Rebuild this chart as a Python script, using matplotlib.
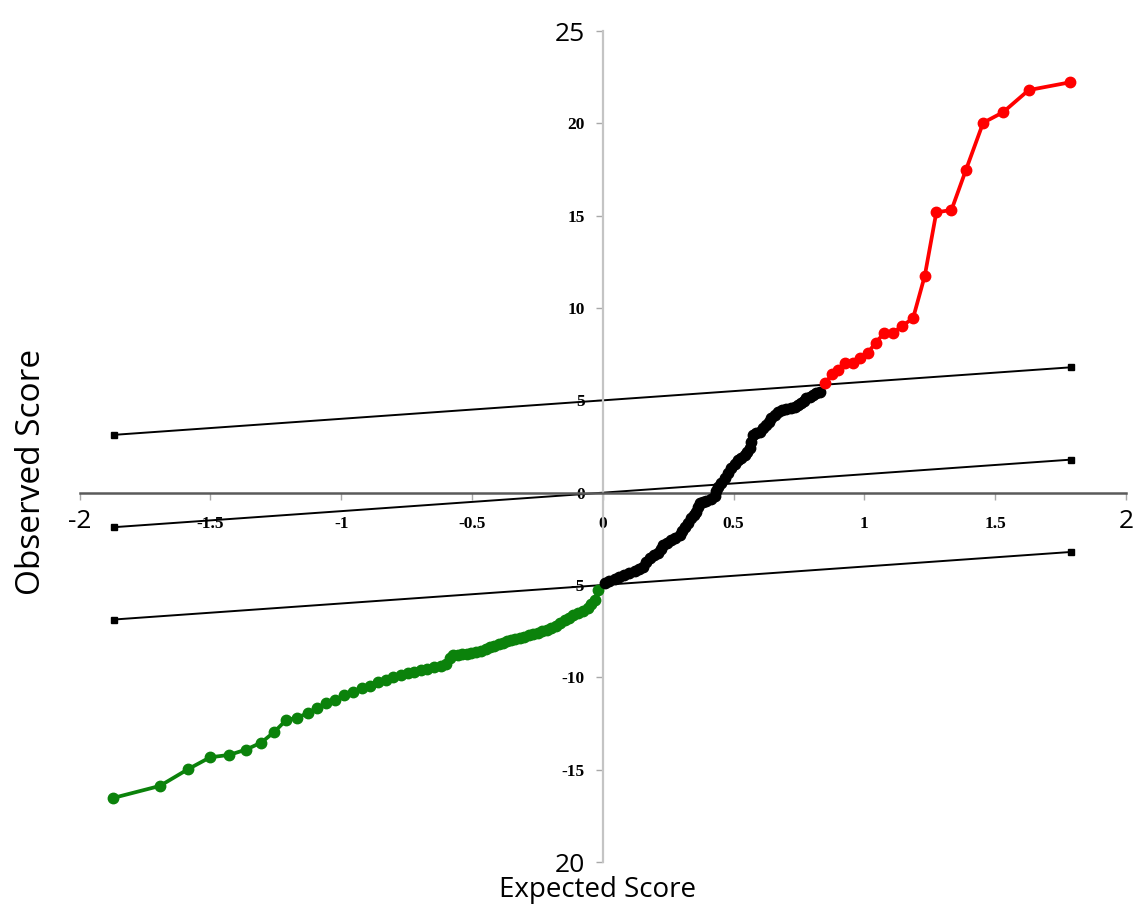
import matplotlib
matplotlib.use("Agg")
import matplotlib.pyplot as plt
from matplotlib.font_manager import FontProperties

# Observed vs expected scores, split into down-regulated (green),
# unchanged (black) and up-regulated (red) groups
green_x = [-1.871, -1.693, -1.586, -1.501, -1.428, -1.363, -1.305, -1.256,
           -1.210, -1.167, -1.127, -1.092, -1.056, -1.022, -0.990, -0.955,
           -0.922, -0.890, -0.860, -0.830, -0.800, -0.772, -0.745, -0.720,
           -0.695, -0.670, -0.645, -0.620, -0.598, -0.585, -0.572, -0.555,
           -0.538, -0.520, -0.502, -0.485, -0.466, -0.448, -0.430, -0.414,
           -0.398, -0.382, -0.366, -0.350, -0.334, -0.318, -0.300, -0.283,
           -0.266, -0.248, -0.232, -0.215, -0.197, -0.180, -0.163, -0.146,
           -0.130, -0.112, -0.095, -0.075, -0.057, -0.044, -0.031, -0.018]
green_y = [-16.53, -15.88, -14.98, -14.33, -14.20, -13.91, -13.53, -12.96,
           -12.31, -12.18, -11.93, -11.64, -11.40, -11.22, -10.98, -10.80,
           -10.60, -10.45, -10.25, -10.12, -10.00, -9.85, -9.78, -9.70,
           -9.62, -9.55, -9.46, -9.38, -9.28, -8.95, -8.80, -8.77,
           -8.74, -8.71, -8.67, -8.62, -8.55, -8.47, -8.38, -8.30,
           -8.20, -8.12, -8.05, -7.98, -7.92, -7.86, -7.80, -7.72,
           -7.65, -7.58, -7.50, -7.42, -7.34, -7.20, -7.05, -6.89,
           -6.76, -6.63, -6.53, -6.40, -6.26, -6.05, -5.81, -5.27]

black_x = [0.007, 0.025, 0.045, 0.064, 0.083, 0.102, 0.122, 0.138, 0.154,
           0.166, 0.179, 0.195, 0.211, 0.222, 0.230, 0.246, 0.262, 0.278,
           0.294, 0.304, 0.313, 0.326, 0.338, 0.348, 0.358, 0.365, 0.370,
           0.383, 0.396, 0.412, 0.428, 0.434, 0.440, 0.453, 0.466, 0.478,
           0.491, 0.504, 0.517, 0.530, 0.542, 0.552, 0.561, 0.568, 0.574,
           0.587, 0.600, 0.612, 0.625, 0.635, 0.644, 0.657, 0.670, 0.686,
           0.702, 0.718, 0.733, 0.746, 0.759, 0.768, 0.778, 0.791, 0.804,
           0.816, 0.829]
black_y = [-4.91, -4.80, -4.69, -4.58, -4.46, -4.36, -4.24, -4.13, -4.01,
           -3.78, -3.55, -3.40, -3.28, -3.05, -2.83, -2.70, -2.56, -2.43,
           -2.29, -2.06, -1.84, -1.62, -1.39, -1.21, -1.03, -0.80, -0.57,
           -0.51, -0.45, -0.32, -0.18, 0.07, 0.32, 0.55, 0.78, 1.05,
           1.32, 1.55, 1.77, 1.90, 2.04, 2.22, 2.40, 2.76, 3.12,
           3.21, 3.30, 3.48, 3.67, 3.85, 4.03, 4.21, 4.39, 4.46,
           4.52, 4.59, 4.66, 4.75, 4.84, 4.97, 5.11, 5.20, 5.29,
           5.38, 5.47]

red_x = [0.851, 0.878, 0.899, 0.927, 0.957, 0.985, 1.014, 1.043, 1.075,
         1.110, 1.145, 1.186, 1.231, 1.275, 1.333, 1.388, 1.454, 1.530,
         1.628, 1.785]
red_y = [5.96, 6.43, 6.64, 7.04, 7.04, 7.31, 7.58, 8.12, 8.63,
         8.66, 9.04, 9.44, 11.75, 15.18, 15.31, 17.47, 20.03, 20.60,
         21.80, 22.22]

# Threshold lines (upper band, equality line, lower band)
band_x = [-1.87, 1.79]
upper_y = [3.13, 6.79]
equal_y = [-1.87, 1.79]
lower_y = [-6.87, -3.21]

x_ticks = [-2, -1.5, -1, -0.5, 0, 0.5, 1, 1.5, 2]
x_labels = ["-2", "-1.5", "-1", "-0.5", "0", "0.5", "1", "1.5", "2"]
y_ticks = [-20, -15, -10, -5, 0, 5, 10, 15, 20, 25]
y_labels = ["20", "-15", "-10", "-5", "0", "5", "10", "15", "20", "25"]

fig = plt.figure(figsize=(11.33, 9.07), dpi=100)
ax = fig.add_axes([0.0702, 0.0496, 0.9236, 0.9162])
ax.set_xlim(-2, 2)
ax.set_ylim(-20, 25)

for side in ("top", "right"):
    ax.spines[side].set_visible(False)
ax.spines["left"].set_position(("data", 0))
ax.spines["bottom"].set_position(("data", 0))
ax.spines["left"].set_color("#c4c4c4")
ax.spines["left"].set_linewidth(1.6)
ax.spines["bottom"].set_color("#5a5a5a")
ax.spines["bottom"].set_linewidth(1.8)

ax.set_xticks(x_ticks, x_labels)
ax.set_yticks(y_ticks, y_labels)
ax.tick_params(axis="x", direction="out", length=5, width=1, color="#a8a8a8", pad=12)
ax.tick_params(axis="y", direction="out", length=5, width=1, color="#a8a8a8", pad=8)

small = FontProperties(family="Liberation Serif", weight="bold", size=12.5)
big = FontProperties(family="Open Sans", size=19)

xt = ax.xaxis.get_major_ticks()
for i, tick in enumerate(xt):
    is_end = i in (0, len(xt) - 1)
    tick.label1.set_fontproperties(big if is_end else small)
    if is_end:
        tick.set_pad(7)
yt = ax.yaxis.get_major_ticks()
for i, tick in enumerate(yt):
    tick.label1.set_fontproperties(big if i in (0, len(yt) - 1) else small)

for ys in (upper_y, equal_y, lower_y):
    ax.plot(band_x, ys, color="black", lw=1.4, marker="s", markersize=4.5,
            zorder=2.2, clip_on=False)

ms = 7.5
lw = 2.7
ax.plot(green_x, green_y, color="#0b820b", lw=lw, marker="o", markersize=ms,
        zorder=3, clip_on=False)
ax.plot(black_x, black_y, color="black", lw=lw, marker="o", markersize=ms,
        zorder=3, clip_on=False)
ax.plot(red_x, red_y, color="#ff0000", lw=lw, marker="o", markersize=ms,
        zorder=3, clip_on=False)

fig.text(0.527, 0.019, "Expected Score", family="Open Sans", size=20,
         ha="center", va="center")
fig.text(0.028, 0.48, "Observed Score", family="Open Sans", size=24,
         ha="center", va="center", rotation=90)

fig.savefig("out.png", dpi=100)
